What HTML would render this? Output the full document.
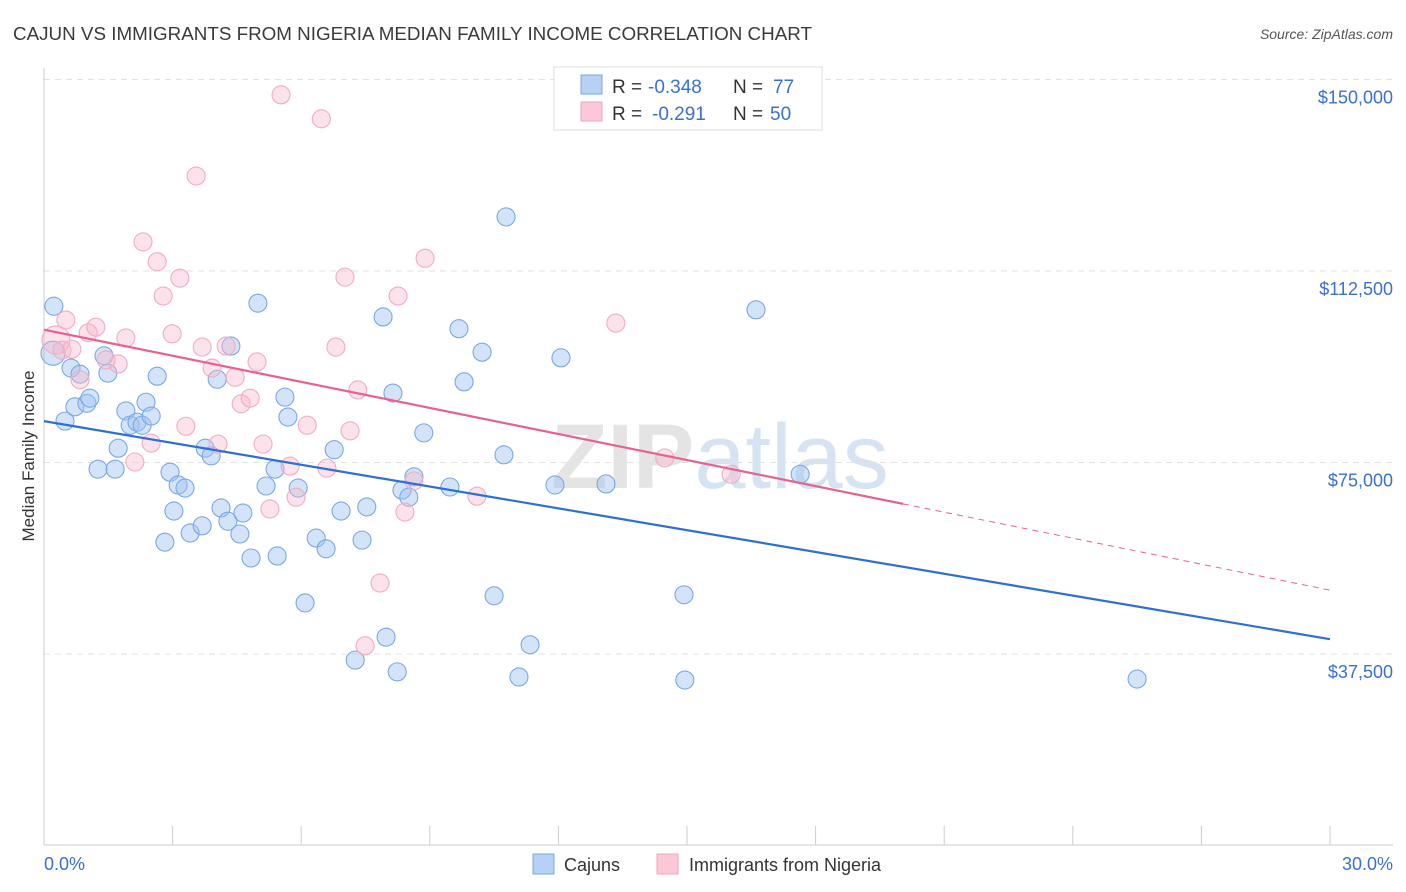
<!DOCTYPE html>
<html><head><meta charset="utf-8"><style>
body{margin:0;background:#fff;font-family:"Liberation Sans",sans-serif}
svg{display:block}
</style></head><body>
<svg id="chart" width="1406" height="892" viewBox="0 0 1406 892" xmlns="http://www.w3.org/2000/svg" font-family="Liberation Sans, sans-serif">
<text x="13" y="40" font-size="18" fill="#3a3a3a" textLength="799" lengthAdjust="spacingAndGlyphs">CAJUN VS IMMIGRANTS FROM NIGERIA MEDIAN FAMILY INCOME CORRELATION CHART</text>
<text x="1393" y="39" font-size="14" fill="#555" text-anchor="end" font-style="italic">Source: ZipAtlas.com</text>
<text x="720" y="488" font-size="92" fill="#e4e4e4" text-anchor="middle" font-weight="bold">ZIP<tspan fill="#d6e3f3" font-weight="normal">atlas</tspan></text>
<g id="grid"></g>
<g id="axes"></g>
<g id="pts"></g>
<g id="trend"></g>
<text transform="translate(34,456) rotate(-90)" font-size="17" fill="#333" text-anchor="middle">Median Family Income</text>
<text x="44" y="870" font-size="18" fill="#3a6fd8">0.0%</text>
<text x="1393" y="870" font-size="18" fill="#3a6fd8" text-anchor="end">30.0%</text>
<g>
<rect x="554" y="67" width="268" height="63" fill="#fff" stroke="#ddd"/>
<rect x="581" y="75" width="21" height="19" fill="#b7d1f5" stroke="#7aa6e6"/>
<rect x="581" y="102" width="21" height="19" fill="#fcc8d8" stroke="#f0a3bb"/>
<text x="612" y="93" font-size="19" fill="#333">R =</text>
<text x="648" y="93" font-size="19" fill="#3a6fd8">-0.348</text>
<text x="733" y="93" font-size="19" fill="#333">N =</text>
<text x="773" y="93" font-size="19" fill="#3a6fd8">77</text>
<text x="612" y="120" font-size="19" fill="#333">R =</text>
<text x="652" y="120" font-size="19" fill="#3a6fd8">-0.291</text>
<text x="733" y="120" font-size="19" fill="#333">N =</text>
<text x="770" y="120" font-size="19" fill="#3a6fd8">50</text>
</g>
<g>
<rect x="533" y="854" width="21" height="20" fill="#b7d1f5" stroke="#7aa6e6"/>
<text x="564" y="871" font-size="18" fill="#333">Cajuns</text>
<rect x="657" y="854" width="21" height="20" fill="#fcc8d8" stroke="#f0a3bb"/>
<text x="689" y="871" font-size="18" fill="#333">Immigrants from Nigeria</text>
</g>
</svg>
<script>
const yTicks=[37500,75000,112500,150000];
const yTickLabels=["$37,500","$75,000","$112,500","$150,000"];
const xTicks=[0,3,6,9,12,15,18,21,24,27,30];
const cajunX=[0.21,0.23,0.49,0.63,0.84,0.72,1.00,1.07,1.26,1.40,1.49,1.66,1.73,1.91,2.01,2.17,2.29,2.38,2.50,2.64,2.82,2.94,3.03,3.13,3.29,3.41,3.69,3.76,3.90,4.04,4.13,4.29,4.36,4.57,4.64,4.83,4.99,5.18,5.39,5.44,5.62,5.69,5.93,6.09,6.35,6.58,6.77,6.93,7.26,7.42,7.53,7.91,7.98,8.14,8.24,8.35,8.51,8.63,8.86,9.47,9.68,9.80,10.22,10.50,10.73,10.78,11.08,11.34,11.92,12.06,13.11,14.93,14.95,16.61,17.64,25.50];
const cajunY=[96.4,105.6,83.1,93.5,92.3,85.9,86.6,87.6,73.7,95.9,92.5,73.7,77.8,85.1,82.3,82.9,82.3,86.8,84.1,91.9,59.4,73.1,65.5,70.6,70.0,61.2,62.6,77.8,76.3,91.3,66.1,63.5,97.8,61.0,65.1,56.3,106.2,70.4,73.7,56.7,87.8,83.9,70.0,47.5,60.2,58.1,77.5,65.5,36.3,59.8,66.3,103.5,40.8,88.6,34.0,69.6,68.2,72.2,80.8,70.2,101.2,90.8,96.6,48.9,76.5,123.1,33.0,39.3,70.6,95.5,70.8,49.1,32.4,104.9,72.7,32.6];
const nigX=[0.28,0.42,0.51,0.65,0.84,1.03,1.21,1.45,1.73,1.91,2.12,2.31,2.50,2.64,2.78,2.99,3.17,3.31,3.55,3.69,3.92,4.06,4.25,4.46,4.60,4.81,4.97,5.11,5.27,5.53,5.74,5.88,6.14,6.47,6.60,6.81,7.02,7.14,7.32,7.49,7.84,8.26,8.42,8.63,8.89,10.10,13.34,14.48,16.03];
const nigY=[99.0,97.0,102.9,97.2,91.2,100.4,101.5,95.1,94.3,99.4,75.1,118.2,78.8,114.3,107.6,100.2,111.1,82.1,131.1,97.6,93.5,78.6,97.8,91.7,86.5,87.6,94.7,78.6,65.9,147.0,74.3,68.2,82.3,142.3,73.9,97.6,111.3,81.2,89.2,39.1,51.4,107.6,65.3,71.4,115.0,68.4,102.3,75.9,72.7];
const cajunTrend=[83.1,40.4];
const nigTrend=[101.0,66.9,50.0];
const nigSolidEnd=20.04;

const NS="http://www.w3.org/2000/svg";
function sx(v){return 44+v/30*1286;}
function sy(k){return 845.5-k*1000/37500*191.5;}
function mk(tag,attrs,parent){const e=document.createElementNS(NS,tag);for(const k in attrs)e.setAttribute(k,attrs[k]);parent.appendChild(e);return e;}
const grid=document.getElementById('grid'),axes=document.getElementById('axes'),pts=document.getElementById('pts'),trend=document.getElementById('trend');
yTicks.forEach((t,i)=>{
  const y=sy(t/1000);
  const l=mk('line',{x1:44,x2:1393,y1:y,y2:y,stroke:'#e2e2e2','stroke-dasharray':'6,5'},grid);
  
  
  const tx=mk('text',{x:1393,y:y+24,'font-size':18,fill:'#3a6fd8','text-anchor':'end'},grid);
  tx.textContent=yTickLabels[i];
  
  
});
const ax=mk('line',{x1:44,x2:44,y1:68,y2:845,stroke:'#ccc'},axes);


const bx=mk('line',{x1:44,x2:1393,y1:845,y2:845,stroke:'#ccc'},axes);


xTicks.forEach(t=>{
  const x=sx(t);
  const l=mk('line',{x1:x,x2:x,y1:826,y2:845,stroke:'#ccc'},axes);
  
  
});
cajunX.forEach((v,i)=>{
  const c=mk('circle',{cx:sx(v),cy:sy(cajunY[i]),r:i===0?12:9,fill:'rgba(160,196,240,0.45)',stroke:'#7aa8e6','stroke-width':1.1},pts);
  
  
});
nigX.forEach((v,i)=>{
  const c=mk('circle',{cx:sx(v),cy:sy(nigY[i]),r:i===0?14:9,fill:'rgba(248,182,202,0.4)',stroke:'#f2acc2','stroke-width':1.1},pts);
  
  
});
const bl=mk('line',{x1:sx(0),y1:sy(cajunTrend[0]),x2:sx(30),y2:sy(cajunTrend[1]),stroke:'#2d6fd6','stroke-width':2.2},trend);


const pl=mk('line',{x1:sx(0),y1:sy(nigTrend[0]),x2:sx(nigSolidEnd),y2:sy(nigTrend[1]),stroke:'#e8628c','stroke-width':2.2},trend);


const pd=mk('line',{x1:sx(nigSolidEnd),y1:sy(nigTrend[1]),x2:sx(30),y2:sy(nigTrend[2]),stroke:'#e8628c','stroke-width':1,'stroke-dasharray':'6,5'},trend);


</script>
</body></html>
